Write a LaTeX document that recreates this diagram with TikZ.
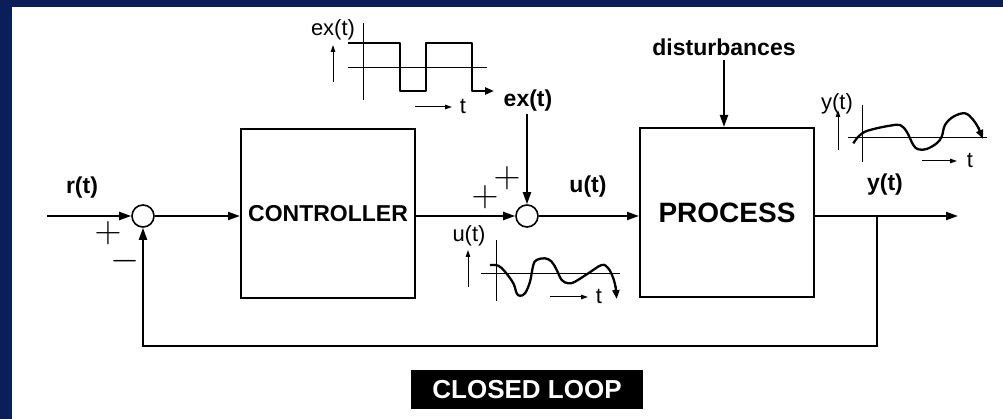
\documentclass[tikz,border=0pt]{standalone}
\usepackage{fontspec}
\setmainfont{Liberation Sans}
\usetikzlibrary{arrows.meta,calc}
\definecolor{navy}{RGB}{10,30,90}
\tikzset{
  blk/.style={draw, line width=2pt, minimum width=174pt, minimum height=169pt, inner sep=0pt},
  sumj/.style={draw, circle, line width=1.6pt, minimum size=22pt, inner sep=0pt},
  lbl/.style={font=\bfseries\fontsize{23}{23}\selectfont, inner sep=2pt},
  ilbl/.style={font=\fontsize{22}{22}\selectfont, inner sep=1pt},
  sgn/.style={font=\fontsize{24}{24}\selectfont, inner sep=0pt, scale=1.5},
  conn/.style={line width=2pt},
  arr/.style={line width=2pt, -{Triangle[length=12pt,width=8pt]}},
  axis/.style={line width=1pt},
  wave/.style={line width=2.3pt, line join=round},
  warr/.style={line width=2.3pt, line join=round, -{Triangle[length=9pt,width=7pt]}},
  tarr/.style={line width=1pt, -{Triangle[length=7pt,width=4.5pt]}},
}
\begin{document}
\begin{tikzpicture}[x=1pt,y=-1pt]
\useasboundingbox (0,0) rectangle (1003,419);
\fill[white] (0,0) rectangle (1003,419);
\fill[navy] (0,0) rectangle (12,419);
\fill[navy] (0,0) rectangle (1003,7);

% blocks
\node[blk, font=\bfseries\fontsize{23}{23}\selectfont] (ctrl) at (328,213.5) {CONTROLLER};
\node[blk, font=\bfseries\fontsize{28}{28}\selectfont] (proc) at (727,212.5) {PROCESS};
\node[sumj] (s1) at (143,216) {};
\node[sumj] (s2) at (527,216) {};

% labels
\node[lbl] (rl) at (82,188) {r(t)};
\node[lbl] (exl) at (528,101) {ex(t)};
\node[lbl] (ul) at (588,187) {u(t)};
\node[lbl] (yl) at (885,185) {y(t)};
\node[lbl, outer sep=3pt] (dist) at (724,47) {disturbances};
\node[sgn] (p1) at (108,233) {$+$};
\node[sgn] (m1) at (125,261) {$-$};
\node[sgn] (p2a) at (485,197) {$+$};
\node[sgn] (p2b) at (507,178) {$+$};

% coordinates
\coordinate (in) at (47,216);
\coordinate (br) at (877,216);
\coordinate (out) at (958,216);
\coordinate (fb) at (143,346);

% connectors
\draw[arr] (in) -- (s1.west);
\draw[arr] (s1.east) -- (s1 -| ctrl.west);
\draw[arr] (s2 -| ctrl.east) -- (s2.west);
\draw[arr] (s2.east) -- (s2 -| proc.west);
\draw[arr] (s2 -| proc.east) -- (out);
\draw[arr] (br) |- (fb) -- (s1.south);
\draw[arr] (s2 |- exl.south) -- (s2.north);
\draw[arr] (dist.south) -- (dist.south |- proc.north);

% ex(t) inset
\node[ilbl] (exi) at (333,30) {ex(t)};
\draw[tarr] (333,82) -- (333,45);
\draw[axis] (363,23) -- (363,100);
\draw[axis] (348,68) -- (487,68);
\draw[warr] (348,43) -- (400,43) -- (400,91) -- (426,91) -- (426,43) -- (472,43) -- (472,91) -- (494,91);
\draw[tarr] (415,107) -- (452,107);
\node[ilbl] (ext) at (463,106) {t};

% u(t) inset
\node[ilbl] (ui) at (469,236) {u(t)};
\draw[tarr] (468,287) -- (468,250);
\draw[axis] (496,240) -- (496,301);
\draw[axis] (481,274) -- (620,274);
\draw[wave] plot[smooth, tension=0.6] coordinates {(490,265) (498.3,265.7) (505,271.7) (513.3,283.3) (516.7,293.3) (520,295.7) (525,293.3) (530,281.7) (533.3,265) (536.7,260) (545,258.3) (551.7,261.7) (556.7,270) (561.7,280) (568.3,283.3) (575,281.7) (588.3,273.3) (601.7,265) (608.3,268.3) (613.3,278.3) (615.5,287)};
\draw[warr] (615.5,286) -- (616.7,299);
\draw[tarr] (550,297) -- (588,297);
\node[ilbl] (ut) at (599,296) {t};

% y(t) inset
\node[ilbl] (yi) at (837,104) {y(t)};
\draw[tarr] (838,150) -- (838,110);
\draw[axis] (862,105) -- (862,162);
\draw[axis] (848,138) -- (987,138);
\draw[wave] plot[smooth, tension=0.6] coordinates {(853.3,143.3) (858.3,136.7) (865,131.7) (876.7,128.3) (890,125.7) (900,125) (906.7,131.7) (913.3,145) (918.3,149.3) (926.7,149) (936.7,143.3) (941.7,136.7) (945,125) (953.3,116.7) (965,113.3) (973.3,120) (979,129)};
\draw[warr] (978.5,128) -- (983,139);
\draw[tarr] (922,161) -- (957,161);
\node[ilbl] (yt) at (970,160) {t};

% closed loop title
\node[fill=black, text=white, font=\bfseries\fontsize{26}{26}\selectfont, minimum width=232pt, minimum height=39pt, inner sep=0pt] (title) at (527,389.5) {CLOSED LOOP};
\end{tikzpicture}
\end{document}
